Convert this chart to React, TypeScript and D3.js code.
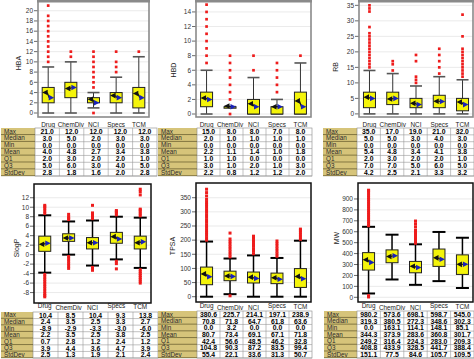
import React from "react";
import * as d3 from "d3";

const categories = ["Drug", "ChemDiv", "NCI", "Specs", "TCM"];
const statLabels = ["Max", "Median", "Min", "Mean", "Q1", "Q3", "StdDev"];

// rows: Max, Median, Min, Mean, Q1, Q3, StdDev
const hbaStats = [
  [21.0, 12.0, 12.0, 12.0, 12.0],
  [3.0, 5.0, 2.0, 3.0, 3.0],
  [0.0, 0.0, 0.0, 0.0, 0.0],
  [4.0, 4.8, 2.7, 3.4, 3.8],
  [2.0, 3.0, 2.0, 2.0, 1.0],
  [5.0, 6.0, 3.0, 4.0, 5.0],
  [2.8, 1.8, 1.6, 2.0, 2.8],
];
const hbaWhiskers = [[0, 9], [0, 10], [1, 4], [0, 7], [0, 11]];
const hbaOutliers = [
  [10, 11, 12, 13, 14, 15, 16, 17, 18, 19, 21],
  [11, 12],
  [0, 5, 6, 7, 8, 9, 10, 11, 12],
  [8, 9, 10, 12],
  [12],
];
const hbaTicks = [0, 2, 4, 6, 8, 10, 12, 14, 16, 18, 20];

const hbdStats = [
  [15.0, 8.0, 8.0, 7.0, 8.0],
  [2.0, 1.0, 1.0, 1.0, 1.0],
  [0.0, 0.0, 0.0, 0.0, 0.0],
  [2.2, 1.1, 1.4, 1.0, 1.8],
  [1.0, 1.0, 0.0, 0.0, 0.0],
  [3.0, 1.0, 2.0, 1.0, 3.0],
  [2.2, 0.8, 1.2, 1.2, 2.0],
];
const hbdWhiskers = [[0, 6], [1, 1], [0, 5], [0, 2], [0, 7]];
const hbdOutliers = [
  [7, 8, 9, 10, 11, 12, 13, 14, 15],
  [0, 2, 3, 4, 5, 6, 7, 8],
  [6, 8],
  [3, 4, 5, 6, 7],
  [8],
];
const hbdTicks = [0, 2, 4, 6, 8, 10, 12, 14];

const rbStats = [
  [35.0, 17.0, 19.0, 21.0, 32.0],
  [5.0, 5.0, 3.0, 4.0, 3.0],
  [0.0, 0.0, 0.0, 0.0, 0.0],
  [5.4, 4.8, 3.4, 4.1, 3.8],
  [2.0, 3.0, 2.0, 2.0, 1.0],
  [7.0, 7.0, 5.0, 6.0, 5.0],
  [4.2, 2.5, 2.1, 3.3, 3.2],
];
const rbWhiskers = [[0, 14], [0, 13], [0, 9], [0, 12], [0, 11]];
const rbOutliers = [
  [15, 16, 17, 18, 19, 20, 21, 22, 23, 24, 25, 26, 28, 33, 34, 35],
  [14, 16, 17],
  [10, 11, 12, 17, 19],
  [13, 15, 17, 19, 21],
  [12, 13, 14, 15, 16, 17, 18, 19, 20, 21, 25, 32],
];
const rbTicks = [0, 5, 10, 15, 20, 25, 30, 35];

const slogpStats = [
  [10.4, 8.5, 10.4, 9.3, 13.8],
  [2.4, 3.5, 2.5, 3.3, 2.7],
  [-8.9, -2.9, -3.3, -3.0, -6.0],
  [2.2, 3.5, 2.5, 3.8, 2.5],
  [0.7, 2.8, 1.2, 2.4, 1.2],
  [3.9, 4.4, 3.6, 4.7, 3.9],
  [2.5, 1.3, 1.9, 2.1, 2.4],
];
const slogpWhiskers = [[-3.8, 8.3], [0.0, 7.0], [-2.3, 7.2], [-1.0, 8.0], [-2.8, 7.8]];
const slogpOutliers = [
  [8.7, 9.2, 9.7, 10.1, 10.4, -4.2, -4.7, -5.2, -5.7, -6.2, -6.7, -7.2, -7.7, -8.2, -8.6, -8.9],
  [7.4, 7.7, 8.0, 8.5, -0.4, -0.9, -1.4, -1.9, -2.4, -2.9],
  [7.6, 8.0, 8.4, 8.8, 10.4, -2.7, -3.1, -3.3],
  [8.4, 8.8, 9.1, 9.3, -1.4, -1.9, -3.0],
  [8.2, 8.6, 9.0, 9.4, 9.6, 12.6, 13.3, 13.8, -3.2, -3.6, -4.0, -4.4, -4.8, -5.2, -5.6, -6.0],
];
const slogpTicks = [-8, -6, -4, -2, 0, 2, 4, 6, 8, 10, 12];

const tpsaStats = [
  [380.6, 225.7, 214.1, 197.1, 238.9],
  [70.8, 71.8, 64.7, 61.8, 63.6],
  [0.0, 3.2, 0.0, 0.0, 0.0],
  [80.7, 73.4, 69.1, 67.1, 71.8],
  [42.4, 56.6, 48.5, 46.2, 32.8],
  [104.8, 90.3, 87.2, 83.5, 99.4],
  [55.4, 22.1, 33.6, 31.3, 50.7],
];
const tpsaWhiskers = [[0, 195], [9, 135], [0, 146], [0, 137], [0, 198]];
const tpsaOutliers = [
  [200, 209, 218, 227, 236, 245, 254, 263, 272, 281, 290, 299, 308, 317, 326, 335, 344, 356, 368, 380],
  [141, 150, 159, 168, 177, 186, 195, 204, 225, 3.2],
  [152, 161, 170, 179, 188, 197, 206, 214],
  [143, 152, 161, 170, 179, 188, 197],
  [203, 211, 219, 227, 235, 239],
];
const tpsaTicks = [0, 50, 100, 150, 200, 250, 300, 350];

const mwStats = [
  [980.2, 573.6, 698.1, 598.7, 545.0],
  [319.3, 380.5, 272.3, 348.6, 302.3],
  [0.0, 163.1, 114.1, 148.1, 85.1],
  [344.3, 373.9, 283.6, 360.8, 301.7],
  [249.2, 316.4, 224.3, 283.0, 209.3],
  [408.8, 433.9, 328.5, 441.7, 388.4],
  [151.1, 77.5, 84.6, 105.7, 109.5],
];
const mwWhiskers = [[35, 645], [163, 573], [114, 485], [148, 598], [85, 545]];
const mwOutliers = [
  [655, 675, 695, 715, 735, 755, 775, 795, 815, 835, 855, 875, 895, 915, 935, 955, 975, 980, 3, 15],
  [],
  [495, 515, 535, 555, 575, 595, 615, 645, 672, 698],
  [],
  [],
];
const mwTicks = [0, 100, 200, 300, 400, 500, 600, 700, 800, 900];

const FONT = "'Liberation Sans', Arial, sans-serif";

type PanelProps = {
  title: string;
  stats: number[][];
  whiskers: number[][];
  outliers: number[][];
  ticks: number[];
  domain: [number, number];
  frame: { l: number; t: number; r: number; b: number };
  table: { x0: number; x1: number; x2: number; y0: number; y1: number };
  titlePos: [number, number];
  bottom: boolean;
  labelY: number;
};

function Panel(p: PanelProps) {
  const { frame, table, bottom } = p;
  const x = d3.scalePoint<string>().domain(categories).range([frame.l, frame.r]).padding(0.45);
  const y = d3.scaleLinear().domain(p.domain).range([frame.b, frame.t]);
  const f1 = d3.format(".1f");
  const fmt = (v: number) => f1(v).replace("\u2212", "-");
  const boxW = 12;
  const capW = bottom ? 13 : 12;
  const frameStroke = bottom ? "#111" : "#8a8a8a";
  const whiskerStroke = bottom ? "#000" : "#333";
  const capStroke = bottom ? "#000" : "#555";
  const sq = bottom ? 3 : 2.7;
  const rowH = (table.y1 - table.y0) / statLabels.length;
  const colW = (table.x2 - table.x1) / categories.length;
  const labelOffsets = bottom ? [0, 1.5, 1.5, 0, 1] : [0, 0, 0, 0, 0];

  return (
    <g>
      {p.ticks.map((t) => (
        <line key={"g" + t} x1={frame.l} x2={frame.r} y1={y(t)} y2={y(t)} stroke="#e4e4e4" strokeWidth={0.8} />
      ))}
      {p.ticks.map((t) => (
        <g key={"t" + t}>
          <line x1={frame.l - 4} x2={frame.l} y1={y(t)} y2={y(t)} stroke="#444" strokeWidth={0.8} />
          <text x={frame.l - 5} y={y(t)} dy="0.35em" textAnchor="end" fontSize={6.5} fill="#333" fontFamily={FONT}>
            {fmt(t).replace(".0", "")}
          </text>
        </g>
      ))}
      <text
        transform={`translate(${p.titlePos[0]},${p.titlePos[1]}) rotate(-90)`}
        textAnchor="middle"
        fontSize={7}
        fill="#222"
        fontFamily={FONT}
      >
        {p.title}
      </text>
      {categories.map((c, i) => {
        const cx = x(c) as number;
        const q1 = p.stats[4][i];
        const q3 = p.stats[5][i];
        const med = p.stats[1][i];
        const mean = p.stats[3][i];
        const [lo, hi] = p.whiskers[i];
        return (
          <g key={c}>
            <line x1={cx} x2={cx} y1={y(lo)} y2={y(q1)} stroke={whiskerStroke} strokeWidth={bottom ? 1.5 : 1} />
            <line x1={cx} x2={cx} y1={y(q3)} y2={y(hi)} stroke={whiskerStroke} strokeWidth={bottom ? 1.5 : 1} />
            <line x1={cx - capW / 2} x2={cx + capW / 2} y1={y(lo)} y2={y(lo)} stroke={capStroke} strokeWidth={bottom ? 2 : 1.6} />
            <line x1={cx - capW / 2} x2={cx + capW / 2} y1={y(hi)} y2={y(hi)} stroke={capStroke} strokeWidth={bottom ? 2 : 1.6} />
            <rect
              x={cx - boxW / 2}
              y={y(q3)}
              width={boxW}
              height={Math.max(y(q1) - y(q3), 1.5)}
              fill="#f4f40a"
              stroke="#222"
              strokeWidth={1}
            />
            {p.outliers[i].map((v, k) => (
              <rect key={k} x={cx - sq / 2} y={y(v) - sq / 2} width={sq} height={sq} fill="#ee1c1c" />
            ))}
            <line x1={cx - 1} y1={y(mean)} x2={cx + 1} y2={y(med)} stroke="#111" strokeWidth={1.2} />
            <polygon
              points={`${cx - 6},${y(mean)} ${cx - 0.5},${y(mean) - 2.8} ${cx - 0.5},${y(mean) + 2.8}`}
              fill="#111"
            />
            <polygon
              points={`${cx + 6},${y(med)} ${cx + 0.5},${y(med) - 2.8} ${cx + 0.5},${y(med) + 2.8}`}
              fill="#1a22b8"
            />
            <text
              x={cx}
              y={p.labelY + labelOffsets[i]}
              textAnchor="middle"
              fontSize={6.4}
              fill="#222"
              fontFamily={FONT}
            >
              {c}
            </text>
          </g>
        );
      })}
      <rect
        x={frame.l}
        y={frame.t}
        width={frame.r - frame.l}
        height={frame.b - frame.t}
        fill="none"
        stroke={frameStroke}
        strokeWidth={bottom ? 1.5 : 1.6}
      />
      {!bottom && <rect x={frame.l - 1} y={0} width={frame.r - frame.l + 2} height={2.5} fill="#8a8a8a" />}
      <rect x={table.x0} y={table.y0} width={table.x1 - table.x0} height={table.y1 - table.y0} fill="#d6c47a" />
      <rect x={table.x1} y={table.y0} width={table.x2 - table.x1} height={table.y1 - table.y0} fill="#fff" stroke="#888" strokeWidth={0.6} />
      {statLabels.map((lab, r) => (
        <g key={lab}>
          <line x1={table.x0} x2={table.x1} y1={table.y0 + (r + 1) * rowH - 0.3} y2={table.y0 + (r + 1) * rowH - 0.3} stroke="#5f5428" strokeWidth={0.7} />
          <line x1={table.x1} x2={table.x2} y1={table.y0 + (r + 1) * rowH} y2={table.y0 + (r + 1) * rowH} stroke="#999" strokeWidth={0.6} />
          <text x={table.x0 + 3} y={table.y0 + r * rowH + rowH / 2} dy="0.35em" fontSize={6.3} fill="#2a2a2a" fontFamily={FONT}>
            {lab}
          </text>
          {categories.map((c, i) => (
            <text
              key={c}
              x={table.x1 + colW * (i + 0.5)}
              y={table.y0 + r * rowH + rowH / 2}
              dy="0.36em"
              textAnchor="middle"
              fontSize={6.8}
              fontWeight="bold"
              fill="#000"
              fontFamily={FONT}
            >
              {fmt(p.stats[r][i])}
            </text>
          ))}
        </g>
      ))}
      {categories.map((c, i) =>
        i === 0 ? null : (
          <line key={"v" + c} x1={table.x1 + colW * i} x2={table.x1 + colW * i} y1={table.y0} y2={table.y1} stroke="#999" strokeWidth={0.6} />
        )
      )}
    </g>
  );
}

export default function App() {
  return (
    <svg width={474} height={359} style={{ position: "absolute", left: 0, top: 0, background: "#fff" }}>
      <rect width={474} height={359} fill="#fff" />
      <Panel
        title="HBA"
        stats={hbaStats}
        whiskers={hbaWhiskers}
        outliers={hbaOutliers}
        ticks={hbaTicks}
        domain={[-0.78, 21.9]}
        frame={{ l: 38, t: 1, r: 149, b: 117 }}
        table={{ x0: 1, x1: 35, x2: 157, y0: 128, y1: 176 }}
        titlePos={[21, 63]}
        bottom={false}
        labelY={127}
      />
      <Panel
        title="HBD"
        stats={hbdStats}
        whiskers={hbdWhiskers}
        outliers={hbdOutliers}
        ticks={hbdTicks}
        domain={[-0.41, 15.5]}
        frame={{ l: 196, t: 1, r: 311, b: 117 }}
        table={{ x0: 158, x1: 197, x2: 312, y0: 128, y1: 176 }}
        titlePos={[176, 70]}
        bottom={false}
        labelY={127}
      />
      <Panel
        title="RB"
        stats={rbStats}
        whiskers={rbWhiskers}
        outliers={rbOutliers}
        ticks={rbTicks}
        domain={[-1, 36.4]}
        frame={{ l: 359, t: 1, r: 473, b: 117 }}
        table={{ x0: 323, x1: 357, x2: 474, y0: 128, y1: 176 }}
        titlePos={[338, 67]}
        bottom={false}
        labelY={127}
      />
      <Panel
        title="SlogP"
        stats={slogpStats}
        whiskers={slogpWhiskers}
        outliers={slogpOutliers}
        ticks={slogpTicks}
        domain={[-10.2, 14.9]}
        frame={{ l: 34, t: 184, r: 151, b: 303 }}
        table={{ x0: 1, x1: 33, x2: 158, y0: 312, y1: 358 }}
        titlePos={[19, 248]}
        bottom={true}
        labelY={308}
      />
      <Panel
        title="TPSA"
        stats={tpsaStats}
        whiskers={tpsaWhiskers}
        outliers={tpsaOutliers}
        ticks={tpsaTicks}
        domain={[-18.7, 402]}
        frame={{ l: 196, t: 183, r: 311, b: 302 }}
        table={{ x0: 158, x1: 197, x2: 312, y0: 311, y1: 358 }}
        titlePos={[175, 246]}
        bottom={true}
        labelY={308}
      />
      <Panel
        title="MW"
        stats={mwStats}
        whiskers={mwWhiskers}
        outliers={mwOutliers}
        ticks={mwTicks}
        domain={[-43, 1046]}
        frame={{ l: 358, t: 183, r: 473, b: 302 }}
        table={{ x0: 324, x1: 357, x2: 474, y0: 311, y1: 358 }}
        titlePos={[339, 238]}
        bottom={true}
        labelY={308}
      />
    </svg>
  );
}
